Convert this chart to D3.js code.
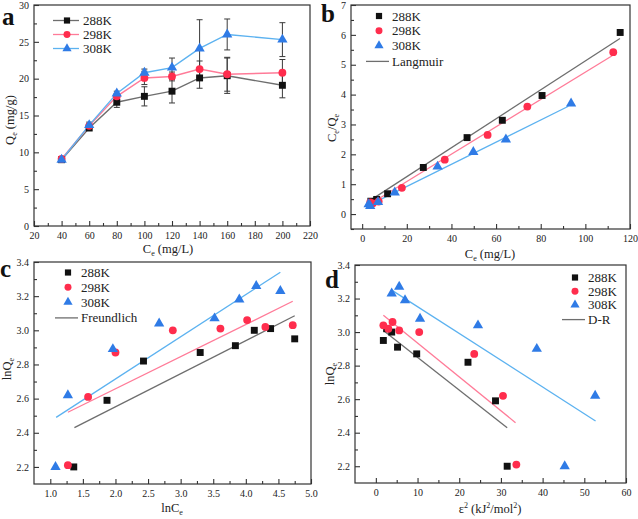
<!DOCTYPE html>
<html>
<head>
<meta charset="utf-8">
<script src="https://d3js.org/d3.v7.min.js"></script>
<style>
  body { margin: 0; background: #fff; }
  svg text { font-family: "Liberation Serif", "Times New Roman", serif !important; }
</style>
</head>
<body>
<div id="chart"></div>
<script>
// ---- panel a : Qe vs Ce with error bars
const qeX = [40, 60, 80, 100, 120, 140, 160, 200]
const qe288 = [9.0, 13.3, 16.8, 17.6, 18.3, 20.1, 20.4, 19.1]
const sd288 = [0.2, 0.3, 0.7, 1.3, 1.6, 1.4, 2.4, 1.7]
const qe298 = [9.1, 13.6, 17.6, 20.1, 20.3, 21.3, 20.6, 20.8]
const sd298 = [0.1, 0.3, 0.4, 0.9, 0.6, 1.1, 2.3, 1.8]
const qe308 = [9.0, 13.7, 18.0, 20.8, 21.5, 24.1, 26.0, 25.3]
const sd308 = [0.2, 0.4, 0.3, 0.5, 1.3, 3.9, 2.1, 2.3]

// ---- panel b : Langmuir
const lmX288 = [3.9, 6.5, 11.4, 27.4, 47.0, 62.8, 80.6, 115.6]
const lmY288 = [0.43, 0.49, 0.68, 1.56, 2.56, 3.14, 3.97, 6.08]
const lmX298 = [3.6, 4.8, 7.4, 17.8, 37.0, 56.2, 74.0, 112.5]
const lmY298 = [0.39, 0.36, 0.42, 0.88, 1.82, 2.65, 3.60, 5.42]
const lmX308 = [2.9, 3.6, 7.1, 14.6, 33.8, 49.8, 64.4, 93.6]
const lmY308 = [0.33, 0.27, 0.40, 0.72, 1.59, 2.08, 2.50, 3.70]
const lmFitX288 = [2.4, 115.5], lmFitY288 = [0.40, 5.88]
const lmFitX298 = [3.4, 112.0], lmFitY298 = [0.33, 5.30]
const lmFitX308 = [2.0, 92.4], lmFitY308 = [0.26, 3.61]

// ---- panel c : Freundlich
const frX288 = [1.36, 1.87, 2.43, 3.30, 3.84, 4.13, 4.38, 4.75]
const frY288 = [2.20, 2.59, 2.82, 2.87, 2.91, 3.00, 3.01, 2.95]
const frX298 = [1.27, 1.58, 2.00, 2.88, 3.61, 4.02, 4.30, 4.72]
const frY298 = [2.21, 2.61, 2.87, 3.00, 3.01, 3.06, 3.02, 3.03]
const frX308 = [1.08, 1.27, 1.96, 2.67, 3.52, 3.90, 4.16, 4.53]
const frY308 = [2.20, 2.62, 2.89, 3.04, 3.07, 3.18, 3.26, 3.23]
const frFitX288 = [1.37, 4.75], frFitY288 = [2.43, 3.085]
const frFitX298 = [1.27, 4.72], frFitY298 = [2.52, 3.17]
const frFitX308 = [1.09, 4.53], frFitY308 = [2.49, 3.34]

// ---- panel d : D-R
const drX288 = [1.8, 2.6, 3.8, 5.2, 9.8, 22.1, 28.7, 31.5]
const drY288 = [2.95, 3.02, 3.00, 2.91, 2.87, 2.82, 2.59, 2.20]
const drX298 = [1.8, 3.0, 4.0, 5.6, 10.4, 23.6, 30.5, 33.7]
const drY298 = [3.04, 3.02, 3.06, 3.01, 3.00, 2.87, 2.62, 2.21]
const drX308 = [3.8, 5.6, 7.0, 10.6, 24.5, 38.6, 52.6, 45.3]
const drY308 = [3.23, 3.27, 3.19, 3.08, 3.04, 2.90, 2.62, 2.20]
const drFitX288 = [1.8, 31.5], drFitY288 = [3.01, 2.43]
const drFitX298 = [1.8, 33.5], drFitY298 = [3.10, 2.46]
const drFitX308 = [3.8, 52.7], drFitY308 = [3.25, 2.47]

const seriesNames = ['288K', '298K', '308K']
const MARK_COLORS = ['#111111', '#ff2d4d', '#2f7be6']
const LINE_COLORS = ['#6e6e6e', '#ff7b98', '#5cb2f0']
const SYMBOLS = [d3.symbolSquare, d3.symbolCircle, d3.symbolTriangle]
const SYMBOL_SIZES = [48, 48, 46]
const FONT = '"Liberation Serif", "Times New Roman", serif'

const svg = d3.select('#chart').append('svg')
    .attr('width', 638).attr('height', 519)
    .attr('font-family', FONT)

function zip(xs, ys) { return xs.map((x, i) => [x, ys[i]]) }

function drawFrame(p) {
    const g = svg.append('g')
    const x = d3.scaleLinear().domain(p.xDomain).range([p.left, p.right])
    const y = d3.scaleLinear().domain(p.yDomain).range([p.bottom, p.top])

    // minor ticks
    g.append('g').attr('transform', `translate(0,${p.bottom})`)
        .call(d3.axisBottom(x).tickValues(p.xMinor).tickSize(-3).tickFormat(''))
    g.append('g').attr('transform', `translate(${p.left},0)`)
        .call(d3.axisLeft(y).tickValues(p.yMinor).tickSize(-3).tickFormat(''))
    // major ticks
    g.append('g').attr('transform', `translate(0,${p.bottom})`)
        .call(d3.axisBottom(x).tickValues(p.xMajor).tickSize(-5).tickPadding(6).tickFormat(p.xFormat))
    g.append('g').attr('transform', `translate(${p.left},0)`)
        .call(d3.axisLeft(y).tickValues(p.yMajor).tickSize(-5).tickPadding(5).tickFormat(p.yFormat))

    g.selectAll('.domain').remove()
    g.selectAll('g').attr('font-family', FONT)
    g.selectAll('.tick line').attr('stroke', '#333').attr('stroke-width', 1.1)
    g.selectAll('.tick text').attr('font-size', 10).attr('fill', '#222')

    g.append('rect')
        .attr('x', p.left).attr('y', p.top)
        .attr('width', p.right - p.left).attr('height', p.bottom - p.top)
        .attr('fill', 'none').attr('stroke', '#333').attr('stroke-width', 1.2)

    // panel letter
    g.append('text').attr('x', p.letterX).attr('y', p.letterY)
        .attr('font-size', 25).attr('font-weight', 'bold').attr('fill', '#111')
        .text(p.letter)

    addRichText(g, p.xTitle, p.xTitleX, p.xTitleY, 0)
    addRichText(g, p.yTitle, p.yTitleX, p.yTitleY, -90)
    return { x, y }
}

// parts: [text, 'n' | 'sub' | 'sup']
function addRichText(g, parts, x, y, rot) {
    const t = g.append('text')
        .attr('text-anchor', 'middle').attr('font-size', 12.5).attr('fill', '#222')
        .attr('transform', `translate(${x},${y}) rotate(${rot})`)
    let shift = 0
    parts.forEach(([s, kind]) => {
        const target = kind === 'sub' ? 3 : kind === 'sup' ? -5 : 0
        t.append('tspan')
            .attr('dy', target - shift)
            .attr('font-size', kind === 'n' ? 12.5 : 8)
            .text(s)
        shift = target
    })
}

function drawMarkers(sc, xs, ys, i) {
    svg.append('g').selectAll('path').data(zip(xs, ys)).join('path')
        .attr('d', d3.symbol(SYMBOLS[i], SYMBOL_SIZES[i]))
        .attr('transform', d => `translate(${sc.x(d[0])},${sc.y(d[1])})`)
        .attr('fill', MARK_COLORS[i])
}

function drawLine(sc, xs, ys, color, width) {
    svg.append('path').datum(zip(xs, ys))
        .attr('d', d3.line().x(d => sc.x(d[0])).y(d => sc.y(d[1])))
        .attr('fill', 'none').attr('stroke', color).attr('stroke-width', width)
}

function drawLegend(lx, ly, step, withLine, lineLabel) {
    seriesNames.forEach((name, i) => {
        const yy = ly + i * step
        if (withLine) {
            svg.append('line').attr('x1', lx - 14).attr('x2', lx + 12)
                .attr('y1', yy).attr('y2', yy)
                .attr('stroke', LINE_COLORS[i]).attr('stroke-width', 1.3)
        }
        svg.append('path').attr('d', d3.symbol(SYMBOLS[i], SYMBOL_SIZES[i] * 0.8))
            .attr('transform', `translate(${lx},${yy})`).attr('fill', MARK_COLORS[i])
        svg.append('text').attr('x', lx + (withLine ? 16 : 13)).attr('y', yy + 4.5)
            .attr('font-size', 13).attr('fill', '#222').text(name)
    })
    if (lineLabel) {
        const yy = ly + 3 * step + 1
        svg.append('line').attr('x1', lx - 13).attr('x2', lx + 10)
            .attr('y1', yy).attr('y2', yy)
            .attr('stroke', LINE_COLORS[0]).attr('stroke-width', 1.3)
        svg.append('text').attr('x', lx + 13).attr('y', yy + 4.5)
            .attr('font-size', 13).attr('fill', '#222').text(lineLabel)
    }
}

// ================= panel a
const scA = drawFrame({
    left: 34, right: 310, top: 5, bottom: 226,
    xDomain: [20, 220], yDomain: [0, 30],
    xMajor: d3.range(20, 221, 20), xMinor: d3.range(30, 220, 20),
    yMajor: d3.range(0, 31, 5), yMinor: d3.range(2.5, 30, 5),
    xFormat: d3.format('d'), yFormat: d3.format('d'),
    letter: 'a', letterX: 2, letterY: 25,
    xTitle: [['C', 'n'], ['e', 'sub'], [' (mg/L)', 'n']], xTitleX: 168, xTitleY: 253,
    yTitle: [['Q', 'n'], ['e', 'sub'], [' (mg/g)', 'n']], yTitleX: 14, yTitleY: 120
})
const qeSeries = [[qe288, sd288], [qe298, sd298], [qe308, sd308]]
qeSeries.forEach(([vals, sds], i) => {
    const eb = svg.append('g').attr('stroke', '#3a3a3a').attr('stroke-width', 1)
    vals.forEach((v, k) => {
        const cx = scA.x(qeX[k])
        const y1 = scA.y(v - sds[k]), y2 = scA.y(v + sds[k])
        eb.append('line').attr('x1', cx).attr('x2', cx).attr('y1', y1).attr('y2', y2)
        eb.append('line').attr('x1', cx - 3).attr('x2', cx + 3).attr('y1', y1).attr('y2', y1)
        eb.append('line').attr('x1', cx - 3).attr('x2', cx + 3).attr('y1', y2).attr('y2', y2)
    })
})
qeSeries.forEach(([vals], i) => drawLine(scA, qeX, vals, LINE_COLORS[i], 1.4))
qeSeries.forEach(([vals], i) => drawMarkers(scA, qeX, vals, i))
drawLegend(67, 20.5, 14, true, null)

// ================= panel b
const scB = drawFrame({
    left: 351, right: 630, top: 5, bottom: 229,
    xDomain: [-5, 120], yDomain: [-0.5, 7],
    xMajor: d3.range(0, 121, 20), xMinor: d3.range(10, 120, 20),
    yMajor: d3.range(0, 8, 1), yMinor: d3.range(-0.5, 7, 1),
    xFormat: d3.format('d'), yFormat: d3.format('d'),
    letter: 'b', letterX: 321, letterY: 22,
    xTitle: [['C', 'n'], ['e', 'sub'], [' (mg/L)', 'n']], xTitleX: 490, xTitleY: 258,
    yTitle: [['C', 'n'], ['e', 'sub'], ['/Q', 'n'], ['e', 'sub']], yTitleX: 336, yTitleY: 128
})
drawLine(scB, lmFitX288, lmFitY288, LINE_COLORS[0], 1.3)
drawLine(scB, lmFitX298, lmFitY298, LINE_COLORS[1], 1.3)
drawLine(scB, lmFitX308, lmFitY308, LINE_COLORS[2], 1.3)
drawMarkers(scB, lmX288, lmY288, 0)
drawMarkers(scB, lmX298, lmY298, 1)
drawMarkers(scB, lmX308, lmY308, 2)
drawLegend(379, 16, 14.8, false, 'Langmuir')

// ================= panel c
const scC = drawFrame({
    left: 34, right: 311, top: 262, bottom: 484,
    xDomain: [0.75, 5.0], yDomain: [2.1, 3.4],
    xMajor: d3.range(1.0, 5.01, 0.5), xMinor: d3.range(1.25, 5.0, 0.5),
    yMajor: d3.range(2.2, 3.41, 0.2), yMinor: d3.range(2.3, 3.4, 0.2),
    xFormat: d3.format('.1f'), yFormat: d3.format('.1f'),
    letter: 'c', letterX: 0, letterY: 277,
    xTitle: [['lnC', 'n'], ['e', 'sub']], xTitleX: 172, xTitleY: 512,
    yTitle: [['lnQ', 'n'], ['e', 'sub']], yTitleX: 11, yTitleY: 369
})
drawLine(scC, frFitX288, frFitY288, LINE_COLORS[0], 1.3)
drawLine(scC, frFitX298, frFitY298, LINE_COLORS[1], 1.3)
drawLine(scC, frFitX308, frFitY308, LINE_COLORS[2], 1.3)
drawMarkers(scC, frX288, frY288, 0)
drawMarkers(scC, frX298, frY298, 1)
drawMarkers(scC, frX308, frY308, 2)
drawLegend(68, 272.5, 14.8, false, 'Freundlich')

// ================= panel d
const scD = drawFrame({
    left: 355, right: 626, top: 265, bottom: 483,
    xDomain: [-5, 60], yDomain: [2.1, 3.4],
    xMajor: d3.range(0, 61, 10), xMinor: d3.range(5, 60, 10),
    yMajor: d3.range(2.2, 3.41, 0.2), yMinor: d3.range(2.3, 3.4, 0.2),
    xFormat: d3.format('d'), yFormat: d3.format('.1f'),
    letter: 'd', letterX: 325, letterY: 288,
    xTitle: [['\u03b5', 'n'], ['2', 'sup'], [' (kJ', 'n'], ['2', 'sup'], ['/mol', 'n'], ['2', 'sup'], [')', 'n']],
    xTitleX: 490, xTitleY: 513,
    yTitle: [['lnQ', 'n'], ['e', 'sub']], yTitleX: 334, yTitleY: 374
})
drawLine(scD, drFitX288, drFitY288, LINE_COLORS[0], 1.3)
drawLine(scD, drFitX298, drFitY298, LINE_COLORS[1], 1.3)
drawLine(scD, drFitX308, drFitY308, LINE_COLORS[2], 1.3)
drawMarkers(scD, drX288, drY288, 0)
drawMarkers(scD, drX298, drY298, 1)
drawMarkers(scD, drX308, drY308, 2)
drawLegend(575, 277.5, 13.7, false, 'D-R')
</script>
</body>
</html>
